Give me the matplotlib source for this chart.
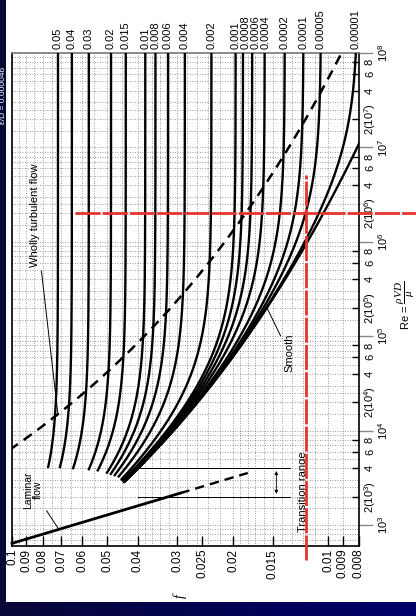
import numpy as np
import matplotlib
matplotlib.use("Agg")
import matplotlib.pyplot as plt
from matplotlib.patches import Rectangle
from matplotlib.ticker import NullLocator, NullFormatter
from matplotlib.transforms import blended_transform_factory

plt.rcParams['font.family'] = ['Liberation Sans', 'DejaVu Sans']
plt.rcParams['mathtext.fontset'] = 'custom'
plt.rcParams['mathtext.rm'] = 'Liberation Sans'
plt.rcParams['mathtext.it'] = 'Liberation Serif:italic'

# ---- data -------------------------------------------------------------
rel_roughness = [0.05, 0.04, 0.03, 0.02, 0.015, 0.01, 0.008, 0.006, 0.004,
                 0.002, 0.001, 0.0008, 0.0006, 0.0004, 0.0002, 0.0001,
                 0.00005, 0.00001]
roughness_labels = ['0.05', '0.04', '0.03', '0.02', '0.015', '0.01', '0.008',
                    '0.006', '0.004', '0.002', '0.001', '0.0008', '0.0006',
                    '0.0004', '0.0002', '0.0001', '0.00005', '0.00001']
curve_re_start = [4000, 4000, 3900, 3800, 3700, 3500, 3400, 3300, 3200,
                  3000, 2900, 2900, 2900, 2850, 2850, 2850, 2850, 2850]
smooth_re_start = 2850
re_end = 1e8

laminar_re_solid = [640, 2180]
laminar_re_dashed = [2180, 3560]
transition_re = [2000, 4000]

boundary_roughness = [0.1, 0.00001]      # wholly-turbulent boundary sweep

f_ticks = [0.1, 0.09, 0.08, 0.07, 0.06, 0.05, 0.04, 0.03, 0.025, 0.02,
           0.015, 0.01, 0.009, 0.008]
f_tick_labels = ['0.1', '0.09', '0.08', '0.07', '0.06', '0.05', '0.04',
                 '0.03', '0.025', '0.02', '0.015', '0.01', '0.009', '0.008']
re_decade_exp = [3, 4, 5, 6, 7, 8]
re_minor_mult = [2, 4, 6, 8]

marker_f = 0.0118        # red reading line (friction factor)
marker_re = 2e6          # red reading line (Reynolds number)


def colebrook(re, rr):
    f = np.full_like(re, 0.02, dtype=float)
    for _ in range(60):
        f = (-2.0 * np.log10(rr / 3.7 + 2.51 / (re * np.sqrt(f)))) ** -2
    return f


# ---- figure / slide background ---------------------------------------
W, H = 416, 616
fig = plt.figure(figsize=(W / 100, H / 100), dpi=100)
bg = fig.add_axes([0, 0, 1, 1], zorder=-10)
grad = np.linspace(0, 1, 256)[None, :, None]
c0 = np.array([0.03, 0.03, 0.22])
c1 = np.array([0.0, 0.0, 0.42])
bg.imshow(c0 + (c1 - c0) * grad, aspect='auto', extent=[0, 1, 0, 1], zorder=0)
bg.text(3.5 / W, 1 - 95 / H, 'ε/D = 0.000046', color='white', rotation=90,
        ha='center', va='center', fontsize=6, zorder=1)
bg.add_patch(Rectangle((6 / W, 14 / H), 1, 1, color='white', lw=0, zorder=2))
bg.set_xlim(0, 1)
bg.set_ylim(0, 1)
bg.axis('off')

# ---- chart axes (friction factor across, Reynolds number up) ----------
L, R, T, B = 12, 359, 53, 546
ax = fig.add_axes([L / W, 1 - B / H, (R - L) / W, (B - T) / H])
ax.set_xscale('log')
ax.set_yscale('log')
ax.set_xlim(0.1, 0.008)
ax.set_ylim(600, 1e8)

# dotted background grid
grid_f = np.r_[0.008, 0.009, np.arange(0.010, 0.0201, 0.001),
               np.arange(0.022, 0.0401, 0.002), np.arange(0.045, 0.1001, 0.005)]
for gf in grid_f:
    ax.axvline(gf, color='#444444', lw=0.6, ls=(0, (1, 2)), alpha=0.7, zorder=1)
for e in range(2, 8):
    for m in [1, 1.5, 2, 2.5, 3, 4, 5, 6, 7, 8, 9]:
        ax.axhline(m * 10 ** e, color='#444444', lw=0.6, ls=(0, (1, 2)),
                   alpha=0.7, zorder=1)

# roughness curves
top_f = []
for rr, rs in zip(rel_roughness, curve_re_start):
    re = np.logspace(np.log10(rs), np.log10(re_end), 400)
    f = colebrook(re, rr)
    ax.plot(f, re, color='black', lw=1.7, zorder=3, solid_capstyle='butt')
    top_f.append(f[-1])

re_s = np.logspace(np.log10(smooth_re_start), np.log10(re_end), 400)
f_s = colebrook(re_s, 0.0)
ax.plot(f_s, re_s, color='black', lw=1.7, zorder=3)

# laminar line
re_l = np.logspace(np.log10(laminar_re_solid[0]), np.log10(laminar_re_solid[1]), 50)
ax.plot(64 / re_l, re_l, color='black', lw=2.0, zorder=3, clip_on=False)
re_ld = np.logspace(np.log10(laminar_re_dashed[0]), np.log10(laminar_re_dashed[1]), 50)
ax.plot(64 / re_ld, re_ld, color='black', lw=1.7, ls=(0, (4, 2.5)), zorder=3)

# wholly turbulent boundary (dashed)
rr_b = np.logspace(np.log10(boundary_roughness[0]), np.log10(boundary_roughness[1]), 300)
f_b = (-2.0 * np.log10(rr_b / 3.7)) ** -2
re_b = 200.0 / (np.sqrt(f_b) * rr_b)
ax.plot(f_b, re_b, color='black', lw=1.8, ls=(0, (4, 2.8)), zorder=3)

# transition band
for tr in transition_re:
    ax.plot([0.04, 0.0132], [tr, tr], color='black', lw=0.7, zorder=2)
ax.annotate('', xy=(0.0146, transition_re[1]), xytext=(0.0146, transition_re[0]),
            arrowprops=dict(arrowstyle='<|-|>', lw=0.6, color='black',
                            mutation_scale=5), zorder=2)
ax.text(0.01205, 2250, 'Transition range', rotation=90, ha='center',
        va='center', fontsize=8, zorder=4)

# annotations
ax.annotate('Wholly turbulent flow', xy=(0.0716, 14950),
            xytext=(35, H - 215), textcoords='figure pixels', rotation=90,
            ha='center', va='center', fontsize=8,
            arrowprops=dict(arrowstyle='-', lw=0.7, color='black',
                            shrinkA=1, shrinkB=0), zorder=4)
ax.annotate('Laminar\nflow', xy=(64 / 900, 900), xytext=(33, H - 490),
            textcoords='figure pixels', rotation=90, ha='center', va='center',
            fontsize=7.5, linespacing=1.0,
            arrowprops=dict(arrowstyle='-', lw=0.7, color='black',
                            shrinkA=1, shrinkB=0), zorder=4)
re_sm = 2.0e5
f_sm = colebrook(np.array([re_sm]), 0.0)[0]
ax.annotate('Smooth', xy=(f_sm, re_sm), xytext=(289, H - 353),
            textcoords='figure pixels', rotation=90, ha='center', va='center',
            fontsize=8,
            arrowprops=dict(arrowstyle='-', lw=0.7, color='black',
                            shrinkA=1, shrinkB=0), zorder=4)

# red reading lines
red = '#e3342c'
ax.plot([marker_f, marker_f], [425, 5.1e6], color=red, lw=2.0,
        ls=(0, (9, 0.8)), clip_on=False, zorder=6)
ax.plot([0.0632, 0.0052], [marker_re, marker_re], color=red, lw=2.0,
        ls=(0, (9, 0.8)), clip_on=False, zorder=6)

# friction-factor axis (bottom)
ax.xaxis.set_minor_locator(NullLocator())
ax.xaxis.set_minor_formatter(NullFormatter())
ax.set_xticks(f_ticks)
ax.set_xticklabels(f_tick_labels, rotation=90)
ax.tick_params(axis='x', which='major', direction='in', length=7, width=1.0,
               labelsize=8.5, pad=2, top=False, bottom=True)
fig.text(180 / W, 1 - 596 / H, 'f', rotation=90, style='italic',
         fontsize=10, ha='center', va='center',
         family=['Liberation Serif', 'DejaVu Serif'])

# Reynolds-number axis (right)
ax.yaxis.set_ticks_position('right')
ax.set_yticks([10.0 ** e for e in re_decade_exp])
ax.set_yticklabels([])
ax.set_yticks([m * 10.0 ** e for e in re_decade_exp[:-1] for m in re_minor_mult],
              minor=True)
ax.yaxis.set_minor_formatter(NullFormatter())
ax.tick_params(axis='y', which='major', direction='out', length=10, width=1.0,
               color='#888888', left=False, right=True)
ax.tick_params(axis='y', which='minor', direction='in', length=5, width=1.0,
               color='black', left=False, right=True)
ty = blended_transform_factory(ax.transAxes, ax.transData)
w_ax = R - L
for e in re_decade_exp:
    ax.text(1 + 24 / w_ax, 10.0 ** e, rf'$10^{{{e}}}$', transform=ty,
            rotation=90, ha='center', va='center', fontsize=8)
    if e < re_decade_exp[-1]:
        for m in re_minor_mult:
            lab = rf'2(10$^{{{e}}}$)' if m == 2 else str(m)
            ax.text(1 + 11 / w_ax, m * 10.0 ** e, lab, transform=ty,
                    rotation=90, ha='center', va='center', fontsize=8)
fig.text(405 / W, 1 - 305 / H, r'Re = $\dfrac{\rho VD}{\mu}$', rotation=90,
         ha='center', va='center', fontsize=8)

# relative roughness labels along the top, nudged apart where curves crowd
px = L + (R - L) * np.log10(0.1 / np.array(top_f)) / np.log10(0.1 / 0.008)
min_gap = 10.0
for i in range(1, len(px)):
    if px[i] - px[i - 1] < min_gap:
        px[i] = px[i - 1] + min_gap
tx = blended_transform_factory(fig.transFigure, ax.transAxes)
for lab, xp in zip(roughness_labels, px):
    ax.text(xp / W, 1 + 4 / (B - T), lab, transform=tx, rotation=90,
            ha='center', va='bottom', fontsize=8)

for s in ['left', 'bottom', 'right']:
    ax.spines[s].set_linewidth(1.2)
    ax.spines[s].set_color('black')
ax.spines['top'].set_color('#777777')
ax.spines['top'].set_linewidth(1.2)
ax.set_facecolor('white')

fig.savefig('out.png', dpi=100)
